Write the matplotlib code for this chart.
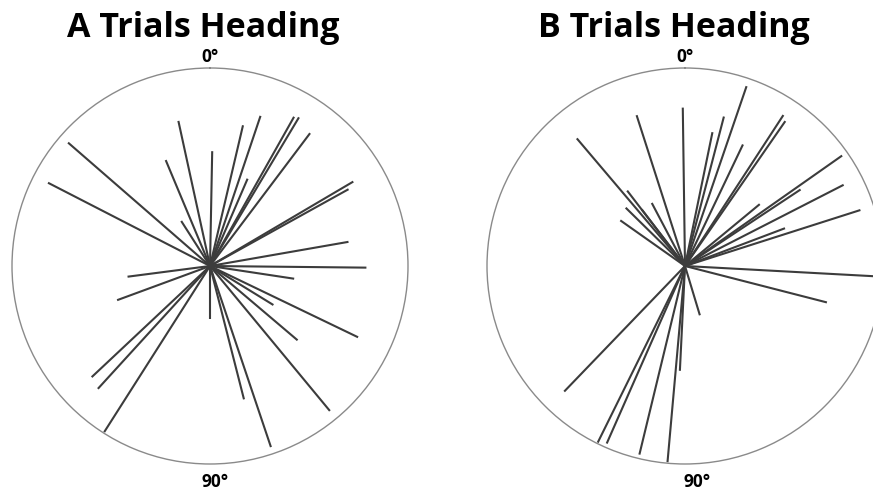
import numpy as np
import matplotlib
matplotlib.use("Agg")
import matplotlib.pyplot as plt

# Panel A: heading (deg, clockwise from top) and normalized length
a_angles = [311.0, 297.2, 347.7, 337.3, 327.4, 1.1, 13.2, 18.6, 23.3, 29.4,
            30.9, 37.0, 59.5, 61.0, 80.1, 90.6, 98.6, 121.6, 115.7, 130.3,
            140.4, 161.4, 165.7, 180.0, 212.5, 222.4, 226.8, 249.8, 262.6]
a_lengths = [0.95, 0.92, 0.75, 0.58, 0.27, 0.58, 0.73, 0.80, 0.48, 0.865,
             0.875, 0.84, 0.84, 0.80, 0.71, 0.79, 0.43, 0.376, 0.83, 0.58,
             0.95, 0.965, 0.695, 0.27, 0.995, 0.84, 0.82, 0.50, 0.42]

# Panel B
b_angles = [319.7, 342.2, 359.2, 322.5, 332.2, 322.6, 314.5, 305.2, 18.9, 14.6,
            11.6, 25.5, 33.1, 34.7, 54.9, 62.9, 72.3, 56.5, 50.4, 69.3,
            93.1, 104.4, 163.2, 223.9, 206.3, 203.8, 193.6, 185.1, 182.8]
b_lengths = [0.845, 0.80, 0.80, 0.48, 0.36, 0.36, 0.42, 0.40, 0.96, 0.78,
             0.69, 0.68, 0.91, 0.89, 0.97, 0.90, 0.93, 0.70, 0.49, 0.54,
             0.97, 0.74, 0.26, 0.88, 0.995, 0.98, 0.98, 0.995, 0.53]

titles = ["A Trials Heading", "B Trials Heading"]
tick_labels = ["0°", "90°"]
tick_positions = [0.0, 180.0]

W, H = 873, 494
DPI = 100
fig = plt.figure(figsize=(W / DPI, H / DPI), dpi=DPI)
fig.patch.set_facecolor("white")

R = 198
centers = [(210, 266), (685, 266)]
title_x = [203, 674]
bottom_dx = [5, 12]   # px shift of the lower label
PT = 72 / DPI          # points per pixel

FONT = ["Open Sans", "DejaVu Sans"]

for (cx, cy), ang, lens, title, tx, bdx in zip(
        centers, [a_angles, b_angles], [a_lengths, b_lengths],
        titles, title_x, bottom_dx):
    ax = fig.add_axes([(cx - R) / W, (H - cy - R) / H, 2 * R / W, 2 * R / H],
                      projection="polar")
    ax.set_theta_zero_location("N")
    ax.set_theta_direction(-1)
    ax.set_ylim(0, 1)
    th = np.deg2rad(ang)
    ax.vlines(th, 0, lens, color="#3c3c3c", linewidth=1.5)
    ax.grid(False)
    ax.set_yticks([])
    ax.set_xticks([])
    ax.spines["polar"].set_color("#8a8a8a")
    ax.spines["polar"].set_linewidth(1.0)

    # direction labels
    offsets = [(0, 11 * PT), (bdx * PT, -18 * PT)]
    for lab, pos, off in zip(tick_labels, tick_positions, offsets):
        ax.annotate(lab, xy=(np.deg2rad(pos), 1.0), xytext=off,
                    textcoords="offset points", ha="center", va="center",
                    fontsize=12.5, fontweight="bold", family=FONT,
                    annotation_clip=False)

    fig.text(tx / W, 1 - 37 / H, title, ha="center", va="baseline",
             fontsize=24.5, fontweight="bold", family=FONT)

fig.savefig("out.png", dpi=DPI, facecolor="white")
